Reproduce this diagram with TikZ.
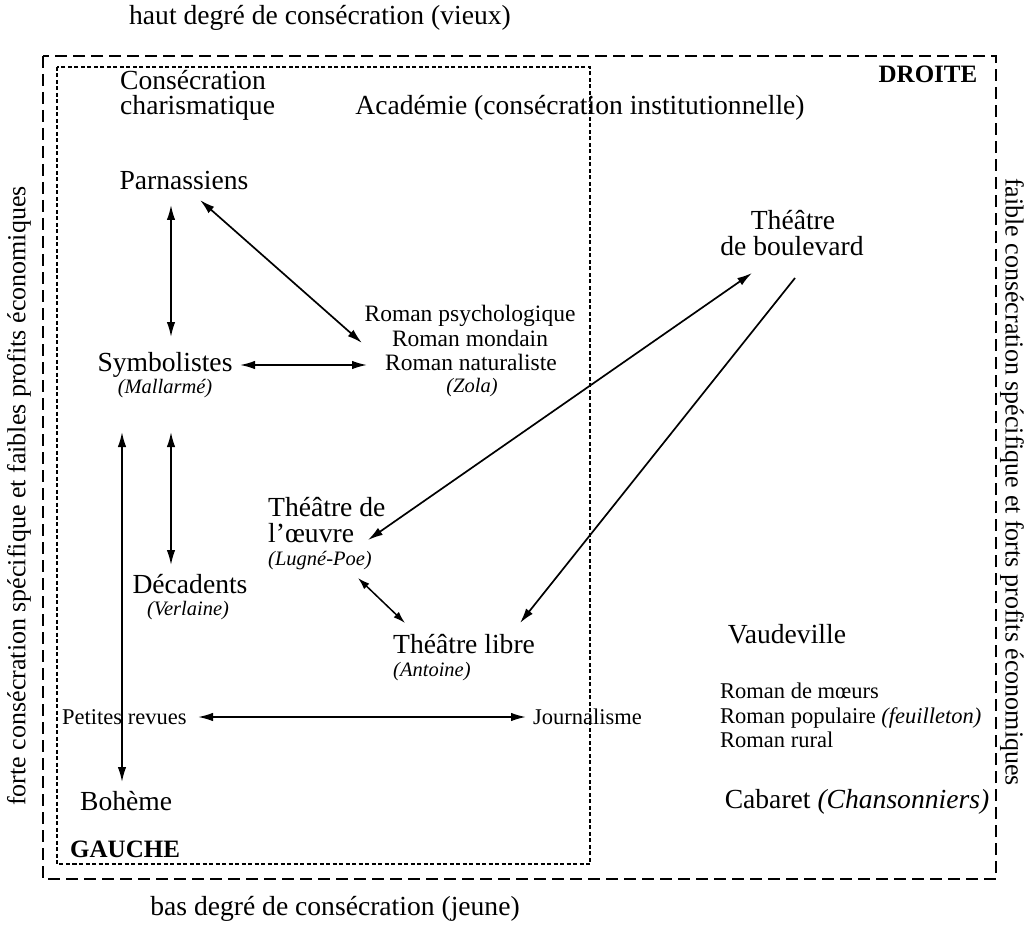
\documentclass[tikz,border=0pt]{standalone}
\usepackage{fontspec}
\setmainfont{Liberation Serif}
\usetikzlibrary{arrows.meta}
\begin{document}
\begin{tikzpicture}[x=1pt,y=-1pt,
  txt/.style={inner sep=0pt, anchor=base, font=\fontsize{27.6}{24}\selectfont},
  txtw/.style={txt, anchor=base west},
  sm/.style={inner sep=0pt, anchor=base, font=\fontsize{23.5}{24}\selectfont},
  smw/.style={inner sep=0pt, anchor=base west, font=\fontsize{22.5}{24}\selectfont},
  it/.style={inner sep=0pt, anchor=base, font=\fontsize{20.5}{22}\selectfont\itshape},
  itw/.style={it, anchor=base west},
  lbl/.style={inner sep=0pt, font=\fontsize{25}{26}\selectfont\bfseries},
  side/.style={inner sep=0pt, font=\fontsize{26}{26}\selectfont},
  outerbox/.style={line width=2.2pt, dash pattern=on 12pt off 6pt},
  innerbox/.style={line width=1.3pt, dash pattern=on 4pt off 2.5pt},
  link/.style={line width=1.7pt, {Latex[length=15pt,width=8.5pt]}-{Latex[length=15pt,width=8.5pt]}},
  onto/.style={line width=1.7pt, -{Latex[length=15pt,width=8.5pt]}},
]
\useasboundingbox (0,0) rectangle (1027,933);

% frames
\draw[outerbox] (43,56) rectangle (996,879);
\draw[innerbox] (57,67) rectangle (590,864);

% axis labels
\node[txt] (haut) at (320,25) {haut degré de consécration (vieux)};
\node[txt] (bas) at (335,915) {bas degré de consécration (jeune)};
\node[side, rotate=90] (gside) at (19,496) {forte consécration spécifique et faibles profits économiques};
\node[side, rotate=-90] (dside) at (1012,482) {faible consécration spécifique et forts profits économiques};
\node[lbl, anchor=base] (droite) at (928,83) {DROITE};
\node[lbl, anchor=base west] (gauche) at (70,857) {GAUCHE};

% left column
\node[txtw] (cons1) at (120,90) {Consécration};
\node[txtw] (cons2) at (120,115) {charismatique};
\node[txt] (acad) at (580,115) {Académie (consécration institutionnelle)};
\node[txt] (parn) at (184,190) {Parnassiens};
\node[txt] (symb) at (165,371) {Symbolistes};
\node[it] (mall) at (165,393) {(Mallarmé)};
\node[txt] (deca) at (190,593) {Décadents};
\node[it] (verl) at (188,615) {(Verlaine)};
\node[smw] (petit) at (62,724) {Petites revues};
\node[txtw] (boh) at (80,810) {Bohème};

% romans
\node[sm] (rpsy) at (470,321) {Roman psychologique};
\node[sm] (rmon) at (470,346) {Roman mondain};
\node[sm] (rnat) at (471,370) {Roman naturaliste};
\node[it] (zola) at (472,392) {(Zola)};

% theatres
\node[txt] (tb1) at (793,230) {Théâtre};
\node[txt] (tb2) at (792,255) {de boulevard};
\node[txtw] (to1) at (268,516) {Théâtre de};
\node[txtw] (to2) at (268,542) {l’œuvre};
\node[itw] (lugne) at (268,565) {(Lugné-Poe)};
\node[txtw] (tl) at (393,653) {Théâtre libre};
\node[itw] (anto) at (393,676) {(Antoine)};

% right side
\node[txt] (vaud) at (787,643) {Vaudeville};
\node[smw] (rm1) at (720,698) {Roman de mœurs};
\node[smw] (rm2) at (720,723) {Roman populaire \textit{(feuilleton)}};
\node[smw] (rm3) at (720,747) {Roman rural};
\node[smw] (journ) at (533,724) {Journalisme};
\node[txt] (cab) at (857,808) {Cabaret \textit{(Chansonniers)}};

% connector end points
\coordinate (parnS) at (171,205);
\coordinate (symbN) at (171,337);
\coordinate (parnE) at (200,200);
\coordinate (rpsyW) at (362,343);
\coordinate (symbE) at (240,365);
\coordinate (rnatW) at (367,365);
\coordinate (symbS) at (171,432);
\coordinate (decaN) at (171,565);
\coordinate (symbSW) at (122,432);
\coordinate (bohN) at (122,782);
\coordinate (petitE) at (198,717);
\coordinate (journW) at (526,717);
\coordinate (to2E) at (368,540);
\coordinate (tb2SW) at (752,273);
\coordinate (tb2S) at (795,278);
\coordinate (tlNE) at (520,623);
\coordinate (lugneS) at (358,578);
\coordinate (tlNW) at (405,623);

% connectors
\draw[link] (parnS) -- (symbN);
\draw[link] (parnE) -- (rpsyW);
\draw[link] (symbE) -- (rnatW);
\draw[link] (symbS) -- (decaN);
\draw[link] (symbSW) -- (bohN);
\draw[link] (petitE) -- (journW);
\draw[link] (to2E) -- (tb2SW);
\draw[onto] (tb2S) -- (tlNE);
\draw[line width=1.5pt, {Latex[length=12pt,width=7.5pt]}-{Latex[length=12pt,width=7.5pt]}] (lugneS) -- (tlNW);
\end{tikzpicture}
\end{document}
